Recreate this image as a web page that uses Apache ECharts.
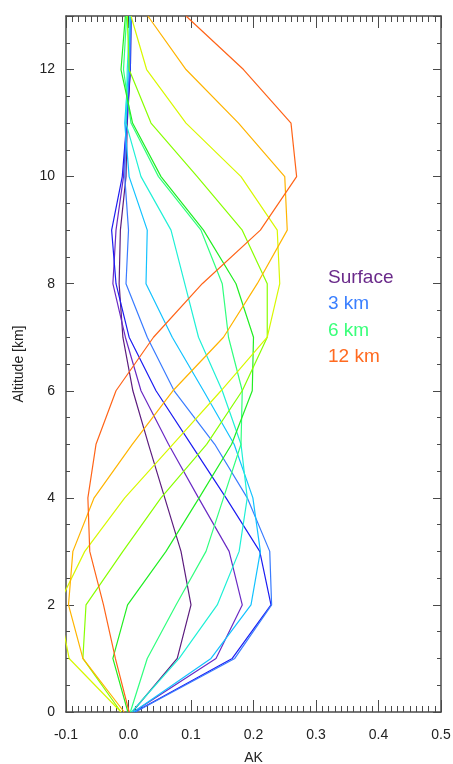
<!DOCTYPE html>
<html>
<head>
<meta charset="utf-8">
<script src="https://cdn.jsdelivr.net/npm/echarts@6/dist/echarts.min.js"></script>
<style>
html,body{margin:0;padding:0;background:#fff;}
#chart{width:453px;height:764px;}
</style>
</head>
<body>
<div id="chart"></div>
<script>
// Altitude levels (km) at which each averaging kernel is sampled
const altitudes = [0, 1, 2, 3, 4, 5, 6, 7, 8, 9, 10, 11, 12, 13];

// Averaging kernel values (AK) for each retrieval level
const akSurface = [0.006, 0.078, 0.100, 0.084, 0.058, 0.032, 0.007, -0.009, -0.015, -0.013, -0.004, -0.002, 0.003, 0.004];
const ak1km  = [0.008, 0.140, 0.182, 0.161, 0.112, 0.064, 0.020, -0.005, -0.025, -0.020, -0.008, -0.003, 0.002, 0.003];
const ak2km  = [0.010, 0.166, 0.228, 0.210, 0.156, 0.100, 0.044, 0.001, -0.020, -0.027, -0.010, -0.003, 0.003, 0.004];
const ak3km  = [0.011, 0.170, 0.229, 0.226, 0.190, 0.138, 0.073, 0.030, -0.004, 0.000, -0.006, -0.004, 0.002, 0.004];
const ak4km  = [0.008, 0.132, 0.196, 0.211, 0.199, 0.169, 0.120, 0.070, 0.028, 0.030, 0.001, -0.006, 0.000, 0.003];
const ak5km  = [0.005, 0.081, 0.142, 0.177, 0.190, 0.180, 0.150, 0.112, 0.090, 0.068, 0.020, -0.004, -0.002, 0.002];
const ak6km  = [0.003, 0.030, 0.076, 0.124, 0.152, 0.180, 0.182, 0.160, 0.150, 0.116, 0.048, 0.004, -0.008, -0.003];
const ak7km  = [-0.001, -0.025, -0.0015, 0.060, 0.113, 0.165, 0.198, 0.200, 0.172, 0.120, 0.052, 0.0065, -0.012, -0.005];
const ak8km  = [-0.012, -0.073, -0.068, -0.009, 0.052, 0.125, 0.182, 0.222, 0.222, 0.182, 0.110, 0.036, 0.001, -0.002];
const ak9km  = [-0.012, -0.095, -0.112, -0.070, -0.006, 0.071, 0.148, 0.222, 0.242, 0.238, 0.180, 0.092, 0.029, 0.004];
const ak10km = [-0.007, -0.073, -0.096, -0.089, -0.055, 0.006, 0.071, 0.152, 0.206, 0.254, 0.250, 0.176, 0.092, 0.031];
const ak12km = [0.001, -0.021, -0.040, -0.062, -0.065, -0.052, -0.020, 0.040, 0.118, 0.211, 0.269, 0.260, 0.184, 0.092];

const kernels = [akSurface, ak1km, ak2km, ak3km, ak4km, ak5km, ak6km, ak7km, ak8km, ak9km, ak10km, ak12km];
const kernelColors = ['#5c1c7e', '#6a2ac4', '#1c1cf2', '#3a7cff', '#12c2ff', '#1ff0d6',
                      '#30ff7e', '#22ee22', '#88ff00', '#d8f800', '#ffb400', '#ff6418'];

// Legend labels
const legendLabels = ['Surface', '3 km', '6 km', '12 km'];
const legendColors = ['#6a2a8a', '#3a7fff', '#3aff7a', '#ff6a20'];

// Axis ranges / ticks
const xMin = -0.1, xMax = 0.5, xStep = 0.1;
const yMin = 0, yMax = 13, yStep = 2, yMinorStep = 0.5;

const FONT = '"Liberation Sans", Arial, Helvetica, sans-serif';
const axisColor = '#4a4a4a';

const series = kernels.map((k, i) => ({
  type: 'line',
  xAxisIndex: 0,
  yAxisIndex: 0,
  data: altitudes.map((a, j) => [k[j], a]),
  showSymbol: false,
  symbol: 'none',
  clip: true,
  animation: false,
  lineStyle: { color: kernelColors[i], width: 1.2 },
  z: 2
}));

const grid = { left: 66, right: 12, top: 16, bottom: 52, outerBoundsMode: 'none', containLabel: false };

const xBase = {
  type: 'value', min: xMin, max: xMax, interval: xStep,
  axisLine: { show: true, onZero: false, lineStyle: { color: axisColor, width: 1.5 } },
  axisTick: { show: true, inside: true, length: 12, lineStyle: { color: axisColor, width: 1 } },
  minorTick: { show: true, splitNumber: 10, length: 6, lineStyle: { color: axisColor, width: 1 } },
  splitLine: { show: false },
  minorSplitLine: { show: false }
};

const yTicksOnly = (pos, step, len, showLine) => ({
  type: 'value', min: yMin, max: yMax, interval: step, position: pos,
  axisLine: { show: showLine, onZero: false, lineStyle: { color: axisColor, width: 1.5 } },
  axisTick: { show: true, inside: true, length: len, lineStyle: { color: axisColor, width: 1 } },
  axisLabel: { show: false },
  splitLine: { show: false }
});

const option = {
  backgroundColor: '#ffffff',
  animation: false,
  grid: grid,
  xAxis: [
    Object.assign({}, xBase, {
      position: 'bottom',
      name: 'AK', nameLocation: 'middle', nameGap: 39,
      nameTextStyle: { color: '#222', fontSize: 14, fontFamily: FONT },
      axisLabel: { show: true, margin: 16, color: '#222', fontSize: 14, fontFamily: FONT,
        formatter: v => Number(v).toFixed(1) }
    }),
    Object.assign({}, xBase, { position: 'top', axisLabel: { show: false } })
  ],
  yAxis: [
    {
      type: 'value', min: yMin, max: yMax, interval: yStep, position: 'left',
      name: 'Altitude [km]', nameLocation: 'middle', nameGap: 40, nameRotate: 90,
      nameTextStyle: { color: '#222', fontSize: 14, fontFamily: FONT },
      axisLine: { show: true, onZero: false, lineStyle: { color: axisColor, width: 1.5 } },
      axisTick: { show: true, inside: true, length: 8, lineStyle: { color: axisColor, width: 1 } },
      axisLabel: { show: true, margin: 11, color: '#222', fontSize: 14, fontFamily: FONT,
        formatter: v => (v % 2 === 0 ? String(v) : '') },
      splitLine: { show: false }
    },
    yTicksOnly('right', yStep, 8, true),
    yTicksOnly('left', yMinorStep, 4, false),
    yTicksOnly('right', yMinorStep, 4, false)
  ],
  graphic: legendLabels.map((t, i) => ({
    type: 'text',
    left: 328,
    top: 268 + i * 26.5,
    z: 10,
    style: { text: t, fill: legendColors[i], font: '19px ' + FONT }
  })),
  series: series
};

const chart = echarts.init(document.getElementById('chart'), null, { renderer: 'canvas' });
chart.setOption(option);
</script>
</body>
</html>
